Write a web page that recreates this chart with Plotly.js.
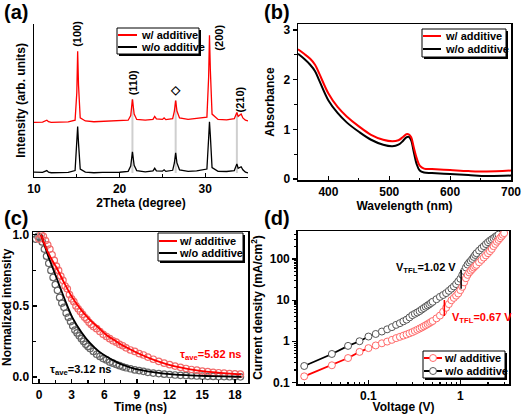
<!DOCTYPE html>
<html>
<head>
<meta charset="utf-8">
<script src="https://cdn.plot.ly/plotly-3.0.1.min.js"></script>
<style>html,body{margin:0;padding:0;background:#fff}#g{width:522px;height:414px}</style>
</head>
<body>
<div id="g"></div>
<script>
// ---------- (a) XRD ----------
const xrdTheta = [10, 11, 11.5, 11.7, 12, 13, 14, 14.8, 15.0, 15.1, 15.2, 15.4, 16, 17, 18, 19, 20, 21, 21.3, 21.5, 21.7, 22, 23, 23.9, 24.1, 24.3, 25.0, 25.2, 25.4, 26.2, 26.4, 26.55, 26.7, 27, 28, 29, 30.2, 30.4, 30.5, 30.6, 30.8, 31.5, 32.5, 33.4, 33.6, 33.7, 33.85, 34.0, 34.2, 34.4, 34.7, 35];
const xrdWith = [35.6, 35.8, 37.0, 36.0, 35.6, 35.8, 35.9, 37, 55, 82.2, 60, 38.5, 36.5, 36, 36.2, 36.3, 36.5, 37, 40, 50.6, 41, 37.5, 37, 37.5, 39.5, 37.8, 37.5, 38.5, 37.4, 38, 43, 49.9, 43, 38.5, 37.5, 38, 39, 65, 92.7, 70, 41, 37.5, 37.2, 38, 41.5, 42, 39.5, 40, 41, 38.5, 37, 36.5];
const xrdWithout = [3.0, 2.8, 4.0, 3.0, 2.6, 2.7, 2.8, 4, 20, 32.8, 22, 5, 3, 2.6, 2.8, 2.9, 2.9, 3.5, 7, 16.3, 7.5, 4, 3.2, 3.8, 5.5, 3.8, 3.6, 4.5, 3.5, 4.2, 9, 15.6, 9, 4.5, 3.5, 3.8, 5, 25, 36, 27, 6, 3.5, 3.4, 4, 7.5, 8.4, 5.5, 5.8, 6.5, 4.5, 3, 2.5];
const peakTheta = [15.1, 21.5, 26.55, 30.5, 33.7];
const peakLabels = ['(100)', '(110)', '\u25C7', '(200)', '(210)'];
const guideTheta = [21.5, 26.55, 33.7];

// ---------- (b) Absorbance ----------
const wavelength = [350, 360, 370, 378, 385, 400, 415, 430, 450, 470, 490, 505, 515, 522, 528, 532, 536, 540, 545, 550, 557, 570, 600, 630, 660, 700];
const absWith = [2.61, 2.52, 2.42, 2.30, 2.12, 1.72, 1.45, 1.26, 1.06, 0.89, 0.79, 0.76, 0.78, 0.84, 0.90, 0.90, 0.84, 0.65, 0.42, 0.27, 0.21, 0.20, 0.18, 0.16, 0.15, 0.17];
const absWithout = [2.52, 2.42, 2.30, 2.17, 1.98, 1.58, 1.33, 1.14, 0.95, 0.79, 0.69, 0.66, 0.69, 0.76, 0.84, 0.85, 0.78, 0.56, 0.30, 0.17, 0.13, 0.12, 0.10, 0.08, 0.06, 0.07];

// ---------- (c) TRPL ----------
const tRed = [0, 0.2, 0.4, 0.6, 0.8, 1.0, 1.2, 1.4, 1.6, 1.8, 2.0, 2.2, 2.4, 2.6, 2.8, 3.0, 3.2, 3.4, 3.6, 3.8, 4.0, 4.2, 4.4, 4.6, 4.8, 5.0, 5.3, 5.6, 5.9, 6.2, 6.5, 6.8, 7.1, 7.4, 7.7, 8.0, 8.4, 8.8, 9.2, 9.6, 10.0, 10.5, 11, 11.5, 12, 12.5, 13, 13.5, 14, 14.5, 15, 15.5, 16, 16.5, 17, 17.5, 18, 18.5];
const plWith = [0.97, 1.0, 0.99, 0.96, 0.93, 0.90, 0.86, 0.82, 0.78, 0.75, 0.71, 0.68, 0.64, 0.62, 0.58, 0.55, 0.53, 0.50, 0.48, 0.46, 0.44, 0.42, 0.405, 0.385, 0.37, 0.355, 0.34, 0.32, 0.30, 0.285, 0.27, 0.255, 0.245, 0.23, 0.22, 0.205, 0.19, 0.18, 0.165, 0.155, 0.14, 0.125, 0.11, 0.097, 0.087, 0.077, 0.068, 0.06, 0.053, 0.048, 0.042, 0.038, 0.033, 0.03, 0.027, 0.024, 0.022, 0.02];
const tBlack = [-0.3, -0.1, 0.1, 0.3, 0.5, 0.7, 0.9, 1.1, 1.3, 1.5, 1.7, 1.9, 2.1, 2.3, 2.5, 2.7, 2.9, 3.1, 3.3, 3.5, 3.7, 3.9, 4.1, 4.3, 4.5, 4.7, 5.0, 5.3, 5.6, 5.9, 6.2, 6.5, 6.8, 7.1, 7.4, 7.7, 8.0, 8.4, 8.8, 9.2, 9.6, 10.0, 10.5, 11, 11.5, 12, 12.5, 13, 13.5, 14, 14.5, 15, 15.5, 16, 16.5, 17, 17.5, 18, 18.5];
const plWithout = [0.97, 0.99, 0.98, 0.95, 0.90, 0.85, 0.80, 0.75, 0.70, 0.65, 0.61, 0.56, 0.52, 0.49, 0.45, 0.42, 0.39, 0.36, 0.33, 0.31, 0.29, 0.27, 0.25, 0.23, 0.215, 0.20, 0.18, 0.16, 0.145, 0.13, 0.12, 0.105, 0.097, 0.088, 0.08, 0.072, 0.065, 0.058, 0.05, 0.045, 0.04, 0.033, 0.028, 0.024, 0.02, 0.017, 0.014, 0.012, 0.01, 0.009, 0.007, 0.006, 0.005, 0.004, 0.003, 0.003, 0.002, 0.002, 0.001];
const tFit = [0.2, 0.8, 1.6, 2.4, 3.1, 3.9, 4.7, 5.5, 6.2, 7.0, 7.7, 8.5, 9.3, 10.8, 12.3, 13.9, 15.4, 16.9, 18.6];
const fitWith = [1.0, 0.88, 0.77, 0.65, 0.555, 0.47, 0.40, 0.345, 0.296, 0.255, 0.221, 0.19, 0.16, 0.113, 0.078, 0.054, 0.038, 0.028, 0.019];
const fitWithout = [1.0, 0.86, 0.70, 0.54, 0.414, 0.315, 0.238, 0.18, 0.144, 0.11, 0.085, 0.065, 0.05, 0.031, 0.019, 0.012, 0.007, 0.004, 0.002];

// ---------- (d) J-V ----------
const voltage = [0.02,0.04,0.06,0.08,0.10,0.12,0.14,0.16,0.18,0.20,0.22,0.24,0.26,0.28,0.30,0.32,0.34,0.36,0.38,0.40,0.42,0.44,0.46,0.48,0.50,0.55,0.60,0.65,0.70,0.75,0.80,0.85,0.90,0.95,1.00,1.05,1.10,1.15,1.20,1.25,1.30,1.35,1.40,1.45,1.50,1.6,1.7,1.8,1.9,2.0,2.1,2.2,2.3,2.4,2.5,2.6,2.7,2.8,2.9,3.0];
const jWith = [0.14,0.26,0.39,0.55,0.68,0.79,0.89,0.98,1.08,1.19,1.28,1.37,1.46,1.56,1.66,1.78,1.9,2.03,2.16,2.3,2.45,2.6,2.76,2.93,3.1,3.6,4.2,5.2,6.5,8.0,9.9,11.3,12.8,14.5,17.5,21,27,34,41,47,52,57,62,67,72,83,95,108,122,138,155,175,205,232,262,290,320,352,388,425];
const jWithout = [0.25,0.49,0.77,1.0,1.3,1.5,1.72,1.95,2.2,2.5,2.75,3.05,3.35,3.8,4.3,4.65,5.0,5.4,5.9,6.4,6.9,7.4,7.9,8.5,9.1,10.5,12,13.3,14.8,16.8,19,21.5,24.5,28.5,33,41,51,62,73,82,90,100,112,125,138,160,183,205,230,255,280,300,320,345,365,390];
const vtflWith = 0.67, vtflWithout = 1.02;
const vtflWithSpan = [4.1, 10];
const vtflWithoutSpan = [19, 54];
const logTickVals = [0.1, 1, 10, 100];
const logTickText = ['0.1', '1', '10', '100'];
const logMinorVals = [0.02,0.03,0.04,0.05,0.06,0.07,0.08,0.09,0.2,0.3,0.4,0.5,0.6,0.7,0.8,0.9,2,3,4,5,6,7,8,9,20,30,40,50,60,70,80,90,200,300,400];

// ---------- layout helpers ----------
const W = 522, H = 414;
const FONT = 'Liberation Sans, Arial, sans-serif';
const RED = '#ff0000', BLK = '#000000';
const px = v => v / W;
const py = v => 1 - v / H;
const dxp = (a, b) => [px(a), px(b)];
const dyp = (top, bottom) => [py(bottom), py(top)];
const tf = (s, c) => ({family: FONT, size: s, color: c || '#000', weight: 'bold'});

function axisBase(extra) {
  return Object.assign({
    showline: true, linecolor: '#000', linewidth: 1.5, showgrid: false, zeroline: false,
    ticks: 'inside', ticklen: 4, tickwidth: 1.2, tickcolor: '#000', tickfont: tf(12),
    fixedrange: true
  }, extra);
}

const traces = [];
// (a) guide lines
guideTheta.forEach(t => {
  const i = xrdTheta.indexOf(t);
  traces.push({x: [t, t], y: [Math.min(...xrdWithout), xrdWith[i]], xaxis: 'x', yaxis: 'y', mode: 'lines',
    line: {color: '#cfcfcf', width: 2}, hoverinfo: 'skip', showlegend: false});
});
traces.push({x: xrdTheta, y: xrdWithout, xaxis: 'x', yaxis: 'y', mode: 'lines', line: {color: BLK, width: 1.3}, showlegend: false});
traces.push({x: xrdTheta, y: xrdWith, xaxis: 'x', yaxis: 'y', mode: 'lines', line: {color: RED, width: 1.3}, showlegend: false});
// (b)
traces.push({x: wavelength, y: absWithout, xaxis: 'x2', yaxis: 'y2', mode: 'lines', line: {color: BLK, width: 2, shape: 'spline'}, showlegend: false});
traces.push({x: wavelength, y: absWith, xaxis: 'x2', yaxis: 'y2', mode: 'lines', line: {color: RED, width: 2, shape: 'spline'}, showlegend: false});
// (c)
traces.push({x: tBlack, y: plWithout, xaxis: 'x3', yaxis: 'y3', mode: 'markers',
  marker: {symbol: 'circle-open', size: 6.5, color: '#666', line: {width: 1.2}}, showlegend: false});
traces.push({x: tRed, y: plWith, xaxis: 'x3', yaxis: 'y3', mode: 'markers',
  marker: {symbol: 'circle-open', size: 6.5, color: '#f26b6b', line: {width: 1.2}}, showlegend: false});
traces.push({x: tFit, y: fitWithout, xaxis: 'x3', yaxis: 'y3', mode: 'lines', line: {color: BLK, width: 1.8, shape: 'spline'}, showlegend: false});
traces.push({x: tFit, y: fitWith, xaxis: 'x3', yaxis: 'y3', mode: 'lines', line: {color: RED, width: 1.8, shape: 'spline'}, showlegend: false});
// (d)
traces.push({x: voltage.slice(0, jWithout.length), y: jWithout, xaxis: 'x4', yaxis: 'y4', mode: 'lines+markers',
  line: {color: BLK, width: 1.8}, marker: {symbol: 'circle', size: 7, color: '#fff', line: {color: '#555', width: 1}}, showlegend: false});
traces.push({x: voltage, y: jWith, xaxis: 'x4', yaxis: 'y4', mode: 'lines+markers',
  line: {color: RED, width: 1.8}, marker: {symbol: 'circle', size: 7, color: '#fff', line: {color: '#ff6a6a', width: 1}}, showlegend: false});
traces.push({x: [vtflWithout, vtflWithout], y: vtflWithoutSpan, xaxis: 'x4', yaxis: 'y4', mode: 'lines', line: {color: BLK, width: 1.5}, showlegend: false});
traces.push({x: [vtflWith, vtflWith], y: vtflWithSpan, xaxis: 'x4', yaxis: 'y4', mode: 'lines', line: {color: RED, width: 1.5}, showlegend: false});

// ---------- annotations ----------
const ann = [];
[['(a)', 3, 0], ['(b)', 263, 0], ['(c)', 3, 206], ['(d)', 263, 206]].forEach(p => {
  ann.push({text: p[0], xref: 'paper', yref: 'paper', x: px(p[1]), y: py(p[2]), xanchor: 'left', yanchor: 'top',
    showarrow: false, borderpad: 0, font: tf(20)});
});
peakTheta.forEach((t, k) => {
  const i = xrdTheta.indexOf(t);
  const lab = peakLabels[k];
  const isDiamond = lab === '\u25C7';
  const is200 = lab === '(200)';
  const is210 = lab === '(210)';
  ann.push({text: lab, xref: 'x', yref: 'y', x: t, y: xrdWith[i], showarrow: false,
    textangle: isDiamond ? 0 : -90, xanchor: 'center', yanchor: is200 ? 'middle' : 'bottom',
    xshift: is200 ? 10 : (is210 ? 3 : 0), yshift: is200 ? -2 : (is210 ? -2 : 2),
    font: {family: FONT, size: isDiamond ? 12 : 11, color: '#000', weight: 'bold'}});
});
ann.push({text: '\u03C4<sub>ave</sub>=5.82 ns', xref: 'x3', yref: 'y3', x: 18.7, y: 0.155, xanchor: 'right', yanchor: 'middle', showarrow: false, font: tf(11, RED)});
ann.push({text: '\u03C4<sub>ave</sub>=3.12 ns', xref: 'x3', yref: 'y3', x: 0.8, y: 0.05, xanchor: 'left', yanchor: 'middle', showarrow: false, font: tf(11)});
ann.push({text: 'V<sub>TFL</sub>=1.02 V', xref: 'x4', yref: 'y4', x: Math.log10(0.944), y: Math.log10(59), xanchor: 'right', yanchor: 'middle', showarrow: false, font: tf(11)});
ann.push({text: 'V<sub>TFL</sub>=0.67 V', xref: 'x4', yref: 'y4', x: Math.log10(0.773), y: Math.log10(3.73), xanchor: 'left', yanchor: 'middle', showarrow: false, font: tf(11, RED)});

// ---------- manual legends ----------
const shapes = [];
function legendBox(x0, y0, x1, y1, rows) {
  shapes.push({type: 'rect', xref: 'paper', yref: 'paper', x0: px(x0 + 2), x1: px(x1 + 2), y0: py(y0 + 2), y1: py(y1 + 2), fillcolor: '#000', line: {width: 0}, layer: 'above'});
  shapes.push({type: 'rect', xref: 'paper', yref: 'paper', x0: px(x0), x1: px(x1), y0: py(y0), y1: py(y1), fillcolor: '#fff', line: {color: '#000', width: 1}, layer: 'above'});
  rows.forEach(r => {
    shapes.push({type: 'line', xref: 'paper', yref: 'paper', x0: px(r.lx0), x1: px(r.lx1), y0: py(r.y), y1: py(r.y), line: {color: r.color, width: 2}, layer: 'above'});
    if (r.circle) {
      shapes.push({type: 'circle', xref: 'paper', yref: 'paper', x0: px(r.cx - 3.5), x1: px(r.cx + 3.5), y0: py(r.y + 3.5), y1: py(r.y - 3.5), fillcolor: '#fff', line: {color: r.circle, width: 1}, layer: 'above'});
    }
    ann.push({text: r.text, xref: 'paper', yref: 'paper', x: px(r.tx), y: py(r.y), xanchor: 'left', yanchor: 'middle', showarrow: false, font: tf(11)});
  });
}
legendBox(117, 28, 199, 54, [
  {y: 35, lx0: 118, lx1: 137, color: RED, tx: 139, text: 'w/ additive'},
  {y: 47, lx0: 118, lx1: 137, color: BLK, tx: 139, text: 'w/o additive'}]);
legendBox(422, 29, 506, 57, [
  {y: 36, lx0: 423, lx1: 441, color: RED, tx: 443, text: 'w/ additive'},
  {y: 49, lx0: 423, lx1: 441, color: BLK, tx: 443, text: 'w/o additive'}]);
legendBox(158, 233, 243, 261, [
  {y: 241, lx0: 159, lx1: 177, color: RED, tx: 177, text: 'w/ additive'},
  {y: 253, lx0: 159, lx1: 177, color: BLK, tx: 177, text: 'w/o additive'}]);
legendBox(423, 351, 505, 378, [
  {y: 358, lx0: 424, lx1: 442, color: RED, circle: '#ff6a6a', cx: 433, tx: 442, text: 'w/ additive'},
  {y: 371, lx0: 424, lx1: 442, color: BLK, circle: '#555', cx: 433, tx: 442, text: 'w/o additive'}]);

const layout = {
  width: W, height: H, margin: {l: 0, r: 0, t: 0, b: 0}, paper_bgcolor: '#fff', plot_bgcolor: '#fff',
  font: {family: FONT, size: 12, color: '#000', weight: 'bold'}, showlegend: false,
  xaxis: axisBase({domain: dxp(34, 248), anchor: 'y', range: [10, 35], tick0: 10, dtick: 10,
    minor: {ticks: 'inside', dtick: 5, ticklen: 2.5, tickcolor: '#000'},
    title: {text: '2Theta (degree)', font: tf(12), standoff: 2}}),
  yaxis: axisBase({domain: dyp(24, 176.7), anchor: 'x', range: [0, 100], showticklabels: false, ticks: '',
    title: {text: 'Intensity (arb. units)', font: tf(12), standoff: 4}}),
  xaxis2: axisBase({domain: dxp(298, 511), anchor: 'y2', range: [350, 700], tick0: 400, dtick: 100, mirror: true,
    minor: {ticks: 'inside', dtick: 50, ticklen: 2.5, tickcolor: '#000'},
    title: {text: 'Wavelength (nm)', font: tf(12), standoff: 2}}),
  yaxis2: axisBase({domain: dyp(24, 180), anchor: 'x2', range: [-0.02, 3.12], dtick: 1, mirror: true, ticks: 'outside',
    minor: {ticks: 'outside', dtick: 0.5, ticklen: 2.5, tickcolor: '#000'},
    title: {text: 'Absorbance', font: tf(12), standoff: 6}}),
  xaxis3: axisBase({domain: dxp(33, 248), anchor: 'y3', range: [-0.55, 19.2], tick0: 0, dtick: 3, mirror: true,
    minor: {ticks: 'inside', dtick: 1.5, ticklen: 2.5, tickcolor: '#000'},
    title: {text: 'Time (ns)', font: tf(12), standoff: 5}}),
  yaxis3: axisBase({domain: dyp(232, 382.7), anchor: 'x3', range: [-0.04, 1.02], dtick: 0.5, tickformat: '.1f', mirror: true,
    minor: {ticks: 'inside', dtick: 0.25, ticklen: 2.5, tickcolor: '#000'},
    title: {text: 'Normalized intensity', font: tf(12), standoff: 2}}),
  xaxis4: axisBase({domain: dxp(297.7, 509.3), anchor: 'y4', type: 'log', range: [-1.77, 0.533], tickmode: 'array',
    tickvals: logTickVals, ticktext: logTickText, mirror: true,
    minor: {ticks: 'inside', ticklen: 2.5, tickcolor: '#000', tickmode: 'array', tickvals: logMinorVals},
    title: {text: 'Voltage (V)', font: tf(12), standoff: 5}}),
  yaxis4: axisBase({domain: dyp(231, 384), anchor: 'x4', type: 'log', range: [-1.04, 2.68], tickmode: 'array',
    tickvals: logTickVals, ticktext: logTickText, mirror: true, ticks: 'outside',
    minor: {ticks: 'outside', ticklen: 2.5, tickcolor: '#000', tickmode: 'array', tickvals: logMinorVals},
    title: {text: 'Current density (mA/cm<sup>2</sup>)', font: tf(12), standoff: 4}}),
  annotations: ann,
  shapes: shapes
};

Plotly.newPlot('g', traces, layout, {staticPlot: true, displayModeBar: false});
</script>
</body>
</html>
